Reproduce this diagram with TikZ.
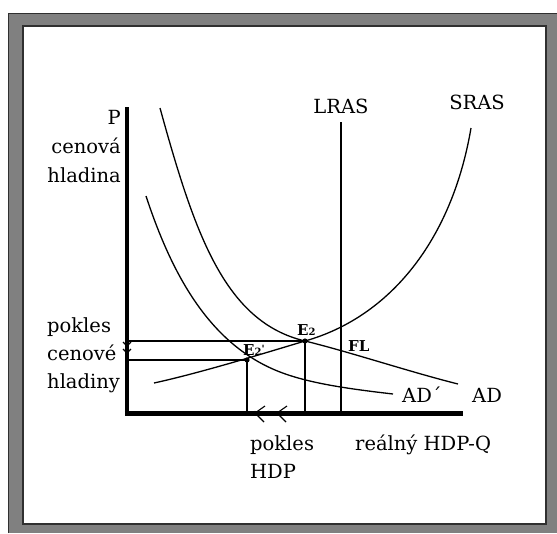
\documentclass[tikz,border=0pt]{standalone}
\usepackage{fontspec}
\setmainfont{DejaVu Serif}
\definecolor{framegray}{HTML}{808080}
\definecolor{framedark}{HTML}{303030}
\tikzset{
  crv/.style={line width=1.3pt, black},
  axisline/.style={line width=4.5pt, black},
  guide/.style={line width=1.2pt, black},
  chev/.style={line width=1.1pt, black},
  lbl/.style={inner sep=0pt, font=\fontsize{19.5}{29}\selectfont},
  elbl/.style={inner sep=0pt, font=\fontsize{15}{15}\selectfont\bfseries},
}
\newcommand{\subtwo}{{\fontsize{10}{10}\selectfont 2}}
\begin{document}
\begin{tikzpicture}[x=1pt,y=-1pt]
\useasboundingbox (0,0) rectangle (557,533);
% frame
\fill[framegray] (8,13) rectangle (557,533);
\draw[framedark, line width=1.2pt] (8.6,533) -- (8.6,13.6) -- (557,13.6);
\filldraw[fill=white, draw=framedark, line width=1.6pt] (23,26) rectangle (546,524);

% key points
\coordinate (O) at (127,413);
\coordinate (ytop) at (127,107);
\coordinate (xend) at (463,413);
\coordinate (lrastop) at (341,122);
\coordinate (lrasbot) at (341,413);
\coordinate (E2) at (305,341);
\coordinate (E2p) at (247,360);

% AD
\draw[crv] (160,108) .. controls (195,235) and (225,322) .. (E2)
           .. controls (350,352) and (410,372) .. (458,384);
% AD'
\draw[crv] (146,196) .. controls (172,275) and (210,345) .. (280,372)
           .. controls (310,383.6) and (350,389) .. (393,394);
% SRAS
\draw[crv] (154,383) .. controls (200,373) and (265,353) .. (E2)
           .. controls (390,317) and (452,240) .. (471,128);

% LRAS
\draw[guide] (lrastop) -- (lrasbot);

% guide lines
\draw[guide] (E2 -| O) -- (E2);
\draw[guide] (E2p -| O) -- (E2p);
\draw[guide] (E2) -- (E2 |- O);
\draw[guide] (E2p) -- (E2p |- O);

% axes
\draw[axisline] (ytop) -- (O);
\draw[line width=5pt] ([xshift=-2.25pt]O) -- (xend);

% equilibrium marks
\fill (E2) circle (2.6);
\fill (E2p) circle (2.6);

% arrows on the x axis
\coordinate (a1) at (255,413);
\coordinate (a2) at (277,413);
\draw[chev] ([shift={(10,-7)}]a1) -- (a1) -- ([shift={(9,9)}]a1);
\draw[chev] ([shift={(10,-7)}]a2) -- (a2) -- ([shift={(9,9)}]a2);
\fill (a1) circle (2.2);
% arrows on the y axis
\coordinate (b1) at (127,346);
\coordinate (b2) at (127,353);
\draw[chev] ([shift={(-4,-4)}]b1) -- (b1) -- ([shift={(4,-4)}]b1);
\draw[chev] ([shift={(-4,-4)}]b2) -- (b2) -- ([shift={(4,-4)}]b2);

% labels
\node[lbl, align=right, anchor=north east] (ylab) at (121,110) {P\\cenová\\hladina};
\node[lbl, align=left, anchor=north west, font=\fontsize{19.5}{28}\selectfont] (pokc) at (47,317) {pokles\\cenové\\hladiny};
\node[lbl, align=left, anchor=north west, font=\fontsize{19.5}{28}\selectfont] (pokh) at (250,435) {pokles\\HDP};
\node[lbl, anchor=north west] (xlab) at (355,435) {reálný HDP-Q};
\node[lbl, anchor=base] (lras) at (341,113) {LRAS};
\node[lbl, anchor=base] (sras) at (477,109) {SRAS};
\node[lbl, anchor=base west] (adp) at (402,402) {AD´};
\node[lbl, anchor=base west] (ad) at (472,402) {AD};
\node[elbl, anchor=base west] (e2l) at (297,335) {E\subtwo};
\node[elbl, anchor=base west] (e2pl) at (243,355) {E\subtwo\raisebox{3pt}{\fontsize{10}{10}\selectfont\textquotesingle}};
\node[elbl, anchor=base west] (fl) at (348,351) {FL};
\end{tikzpicture}
\end{document}
